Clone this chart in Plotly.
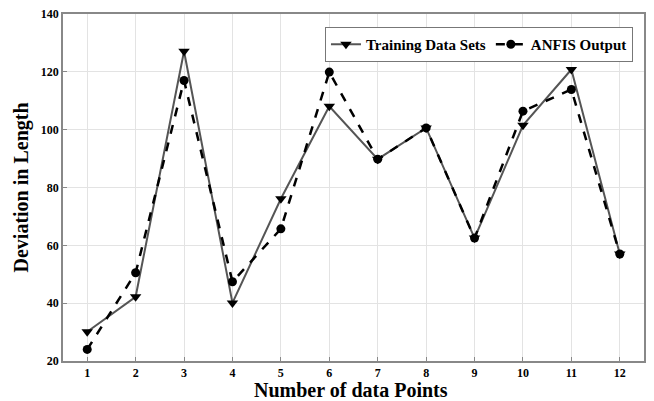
import plotly.graph_objects as go

x_points = list(range(1, 13))
training = [30.1, 42.2, 127.1, 40.1, 76.1, 108.1, 89.8, 100.6, 62.5, 101.5, 120.8, 57.0]
anfis = [24.0, 50.5, 117.0, 47.4, 65.7, 119.9, 89.8, 100.6, 62.5, 106.4, 113.9, 57.0]
y_ticks = [20, 40, 60, 80, 100, 120, 140]

font_family = "Liberation Serif, Times New Roman, serif"

fig = go.Figure()
fig.add_trace(go.Scatter(
    x=x_points, y=training, name="Training Data Sets", mode="lines+markers",
    line=dict(color="#555555", width=2),
    marker=dict(symbol="triangle-down", size=10, color="black"),
))
fig.add_trace(go.Scatter(
    x=x_points, y=anfis, name="ANFIS Output", mode="lines+markers",
    line=dict(color="black", width=2.5, dash="dash"),
    marker=dict(symbol="circle", size=9, color="black"),
))

# the page body adds an 8px offset, so margins are compensated
fig.update_layout(
    width=654, height=401,
    margin=dict(l=55, r=18, t=6, b=48),
    paper_bgcolor="white", plot_bgcolor="white",
    font=dict(family=font_family, color="black"),
    legend=dict(
        orientation="h", x=0.981, y=0.9625, xanchor="right", yanchor="top",
        bgcolor="white", bordercolor="#777777", borderwidth=1,
        font=dict(size=15, family=font_family, weight="bold"),
        tracegroupgap=0,
    ),
    showlegend=True,
    annotations=[
        dict(text="<b>Number of data Points</b>", xref="paper", yref="paper",
             x=0.495, y=-0.0836, xanchor="center", yanchor="middle", showarrow=False,
             font=dict(size=20, family=font_family, color="black")),
        dict(text="<b>Deviation in Length</b>", xref="paper", yref="paper",
             x=-0.0706, y=0.5, xanchor="center", yanchor="middle", showarrow=False,
             textangle=-90, font=dict(size=20, family=font_family, color="black")),
    ],
)
fig.update_xaxes(
    range=[0.5, 12.5], tickvals=x_points, ticktext=[str(v) for v in x_points],
    showgrid=True, gridcolor="#e3e3e3", gridwidth=1,
    showline=True, linecolor="#888888", linewidth=1.5, mirror=True,
    ticks="inside", ticklen=4, tickcolor="#888888",
    tickfont=dict(size=12, family=font_family, weight="bold"),
    zeroline=False, automargin=False, ticklabeloverflow="allow",
)
fig.update_yaxes(
    range=[20, 140], tickvals=y_ticks,
    showgrid=True, gridcolor="#e3e3e3", gridwidth=1,
    showline=True, linecolor="#888888", linewidth=1.5, mirror=True,
    ticks="inside", ticklen=4, tickcolor="#888888",
    tickfont=dict(size=12, family=font_family, weight="bold"),
    zeroline=False, automargin=False, ticklabeloverflow="allow",
)

fig.write_html("out.html")
